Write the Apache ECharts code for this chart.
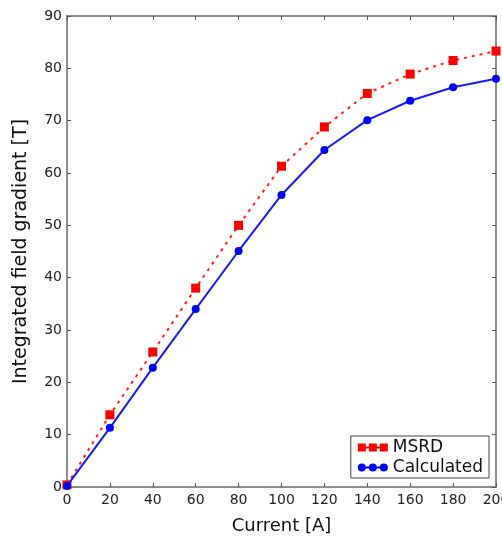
<!DOCTYPE html>
<html>
<head>
<meta charset="utf-8">
<script src="https://cdn.jsdelivr.net/npm/echarts@6/dist/echarts.min.js"></script>
<style>
  html, body { margin: 0; padding: 0; background: #fff; }
  #chart { width: 502px; height: 536px; }
</style>
</head>
<body>
<div id="chart"></div>
<script>
var current = [0, 20, 40, 60, 80, 100, 120, 140, 160, 180, 200];
var msrd = [0.4, 13.8, 25.8, 38.0, 50.0, 61.3, 68.8, 75.2, 78.9, 81.5, 83.3];
var calculated = [0.2, 11.3, 22.8, 34.0, 45.1, 55.8, 64.4, 70.1, 73.8, 76.4, 78.0];

var frameColor = '#8c8c8c';
var fontFam = 'DejaVu Sans';

function pairs(xs, ys) {
  return xs.map(function (x, i) { return [x, ys[i]]; });
}

var chart = echarts.init(document.getElementById('chart'));

var plainAxis = {
  axisLine: { show: true, onZero: false, lineStyle: { color: frameColor, width: 2 } },
  axisTick: { show: true, inside: true, length: 4, lineStyle: { color: '#555', width: 1 } },
  axisLabel: { show: false },
  splitLine: { show: false }
};

chart.setOption({
  animation: false,
  textStyle: { fontFamily: fontFam },
  grid: { left: 67, top: 16, right: 6, bottom: 49, containLabel: false, outerBoundsMode: 'none' },
  legend: {
    right: 13,
    bottom: 58,
    orient: 'vertical',
    backgroundColor: '#fff',
    borderColor: '#444',
    borderWidth: 1,
    borderRadius: 0,
    padding: [3, 6, 2, 7],
    itemGap: 3,
    itemWidth: 30,
    itemHeight: 8,
    textStyle: { fontFamily: fontFam, fontSize: 17, color: '#111' },
    data: [
      { name: 'MSRD', icon: 'path://M0,3h30v2h-30z M0,0h8v8h-8z M11,0h8v8h-8z M22,0h8v8h-8z' },
      { name: 'Calculated', icon: 'path://M0,3h30v2h-30z M4,0A4,4 0 1,1 4,8A4,4 0 1,1 4,0z M15,0A4,4 0 1,1 15,8A4,4 0 1,1 15,0z M26,0A4,4 0 1,1 26,8A4,4 0 1,1 26,0z' }
    ]
  },
  xAxis: [
    Object.assign({}, plainAxis, {
      type: 'value',
      min: 0,
      max: 200,
      interval: 20,
      name: 'Current [A]',
      nameLocation: 'middle',
      nameGap: 30,
      nameTextStyle: { fontFamily: fontFam, fontSize: 18, color: '#111' },
      axisLabel: { show: true, fontFamily: fontFam, fontSize: 14, color: '#222', margin: 6 }
    }),
    Object.assign({}, plainAxis, {
      type: 'value', position: 'top', min: 0, max: 200, interval: 20
    })
  ],
  yAxis: [
    Object.assign({}, plainAxis, {
      type: 'value',
      min: 0,
      max: 90,
      interval: 10,
      name: 'Integrated field gradient [T]',
      nameLocation: 'middle',
      nameGap: 36,
      nameTextStyle: { fontFamily: fontFam, fontSize: 19, color: '#111' },
      axisLabel: { show: true, fontFamily: fontFam, fontSize: 14, color: '#222', margin: 5 }
    }),
    Object.assign({}, plainAxis, {
      type: 'value', position: 'right', min: 0, max: 90, interval: 10
    })
  ],
  series: [
    {
      name: 'MSRD',
      type: 'line',
      data: pairs(current, msrd),
      symbol: 'rect',
      symbolSize: 9,
      color: '#ff0000',
      lineStyle: { color: '#ff2020', width: 2, type: [3, 5] },
      itemStyle: { color: '#ff0000' },
      z: 3
    },
    {
      name: 'Calculated',
      type: 'line',
      data: pairs(current, calculated),
      symbol: 'circle',
      symbolSize: 8,
      color: '#0000ff',
      lineStyle: { color: '#1a1aff', width: 2 },
      itemStyle: { color: '#0000ff' },
      z: 4
    }
  ]
});
</script>
</body>
</html>
